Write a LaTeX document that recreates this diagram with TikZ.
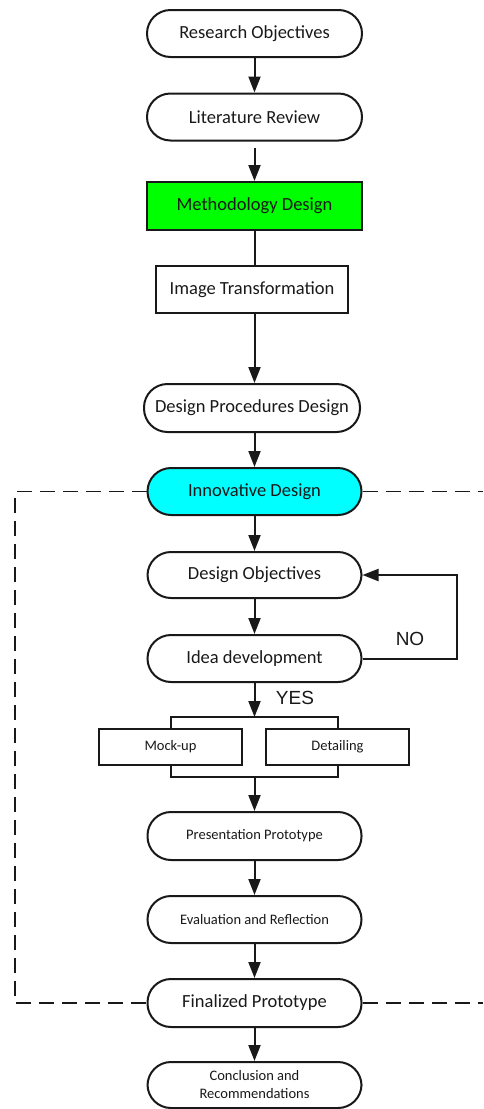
\documentclass[tikz,border=0pt]{standalone}
\usepackage{fontspec}
\setmainfont{Carlito}
\newfontfamily\labelfont{Liberation Sans}
\usetikzlibrary{arrows.meta,calc}

\definecolor{boxgreen}{RGB}{0,255,0}
\definecolor{boxcyan}{RGB}{0,255,255}
\definecolor{ink}{RGB}{25,25,25}

\tikzset{
  stadium/.style={draw=ink, text=ink, line width=2pt, rounded corners=23.5pt,
    minimum width=215pt, minimum height=47pt, inner sep=0pt, align=center},
  plainbox/.style={draw=ink, text=ink, line width=2pt, rectangle,
    minimum height=47pt, inner sep=0pt, align=center},
  bigtext/.style={font=\fontsize{18.5}{22}\selectfont},
  smalltext/.style={font=\fontsize{14.5}{18}\selectfont},
  flow/.style={draw=ink, line width=2pt, -{Triangle[length=16pt,width=12pt]}},
  link/.style={draw=ink, line width=2pt},
  border/.style={draw=ink, line width=1.8pt, dash pattern=on 15pt off 8pt},
  answer/.style={text=ink, font=\labelfont\fontsize{19}{22}\selectfont}
}

\begin{document}
\begin{tikzpicture}[x=1pt,y=-1pt]
\useasboundingbox (0,0) rectangle (483,1109);

% main column
\node[stadium, bigtext] (ro)  at (254.5,33.5) {Research Objectives};
\node[stadium, bigtext] (lr)  at (254.5,117)  {Literature Review};
\node[plainbox, bigtext, fill=boxgreen, minimum width=215pt, minimum height=48pt] (md) at (254.5,206) {Methodology Design};
\node[plainbox, bigtext, minimum width=192pt] (it) at (252,289.5) {Image Transformation};
\node[stadium, bigtext, minimum width=216pt, minimum height=48pt] (dpd) at (252,408) {Design Procedures Design};
\node[stadium, bigtext, fill=boxcyan, minimum width=214pt] (inn) at (254.5,491.5) {Innovative Design};
\node[stadium, bigtext, minimum width=214pt, minimum height=46pt] (dob) at (254.5,575) {Design Objectives};
\node[stadium, bigtext, minimum width=214pt] (idd) at (254.5,658.5) {Idea development};

% parallel tasks
\node[plainbox, smalltext, minimum width=143pt, minimum height=36pt] (mock) at (170.5,747) {Mock-up};
\node[plainbox, smalltext, minimum width=143pt, minimum height=36pt] (det)  at (337.5,747) {Detailing};
\coordinate (topbar) at (254.5,717);
\coordinate (botbar) at (254.5,777);

\node[stadium, smalltext, minimum width=214pt, minimum height=48pt] (pp)  at (254.5,836)   {Presentation Prototype};
\node[stadium, smalltext, minimum width=214pt] (evr) at (254.5,919.5) {Evaluation and Reflection};
\node[stadium, bigtext, minimum width=214pt, minimum height=48pt] (fp)  at (254.5,1003)  {Finalized Prototype};
\node[stadium, smalltext, minimum width=214pt, minimum height=46pt] (cr) at (254.5,1085) {Conclusion and\\Recommendations};

% connectors
\draw[flow] (ro) -- (lr);
\draw[flow] ($(lr.south)+(0,6)$) -- (md);
\draw[link] (md.south) -- (md.south |- it.north);
\draw[flow] (md.south |- it.south) -- (md.south |- dpd.north);
\draw[flow] (inn.north |- dpd.south) -- (inn.north);
\draw[flow] (inn) -- (dob);
\draw[flow] (dob) -- (idd);
\draw[flow] (idd) -- (topbar);
\draw[link] (mock.north) -- (mock.north |- topbar) -- (det.north |- topbar) -- (det.north);
\draw[link] (mock.south) -- (mock.south |- botbar) -- (det.south |- botbar) -- (det.south);
\draw[flow] (botbar) -- (pp);
\draw[flow] (pp) -- (evr);
\draw[flow] (evr) -- (fp);
\draw[flow] (fp) -- (cr);

% rework loop
\coordinate (loop) at (457,616);
\draw[flow] (idd.east) -| (loop) |- (dob.east);
\node[answer] (no)  at (410,639) {NO};
\node[answer] (yes) at (295,698) {YES};

% dashed frame around the design stage
\coordinate (leftside) at (15,700);
\coordinate (rightside) at (483,700);
\draw[border] (inn.west) -| (leftside) |- (fp.west);
\draw[border] (inn.east) -- (inn.east -| rightside);
\draw[border] (fp.east) -- (fp.east -| rightside);
\end{tikzpicture}
\end{document}
